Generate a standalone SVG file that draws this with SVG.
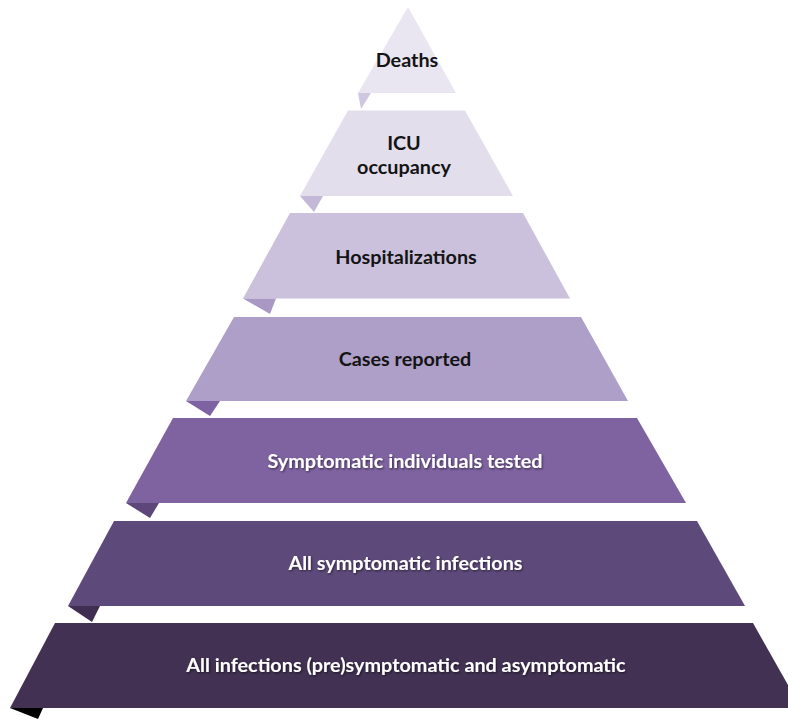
<svg xmlns="http://www.w3.org/2000/svg" width="788" height="719" viewBox="0 0 788 719">
<defs>
<filter id="sh" x="-5%" y="-30%" width="110%" height="160%">
<feDropShadow dx="1" dy="1.2" stdDeviation="0.8" flood-color="#000" flood-opacity="0.55"/>
</filter>
</defs>
<style>
text{font-family:Lato,"Open Sans","Liberation Sans",sans-serif;font-weight:bold;font-size:19.8px;text-anchor:middle}
.dk{fill:#141414}
.wt{fill:#ffffff;filter:url(#sh)}
</style>
<rect width="788" height="719" fill="#ffffff"/>
<g id="tier-deaths">
<polygon points="408,7 456,93 358,93" fill="#EAE6F1"/>
<polygon points="358,93 371,93 361,109" fill="#CFC6E0"/>
<text class="dk" x="407" y="67">Deaths</text>
</g>
<g id="tier-icu">
<polygon points="348,110.5 465,110.5 513,196 300,196" fill="#E3DEEC"/>
<polygon points="300,196 323,196 314,212" fill="#C3B8D7"/>
<text class="dk" x="404" y="150">ICU</text>
<text class="dk" x="404" y="174">occupancy</text>
</g>
<g id="tier-hospitalizations">
<polygon points="290,213 523,213 570,298.5 243,298.5" fill="#CBC1DD"/>
<polygon points="243,298.5 276,298.5 270,314" fill="#A997C4"/>
<text class="dk" x="406" y="264">Hospitalizations</text>
</g>
<g id="tier-cases">
<polygon points="234,317 581,317 628,401 186,401" fill="#AE9FC8"/>
<polygon points="186,401 220,401 210,416" fill="#7E62A2"/>
<text class="dk" x="405" y="366">Cases reported</text>
</g>
<g id="tier-tested">
<polygon points="173,418 637,418 686,503 126,503" fill="#7F63A1"/>
<polygon points="126,503 159,503 150,518" fill="#5D4679"/>
<text class="wt" x="405" y="468">Symptomatic individuals tested</text>
</g>
<g id="tier-symptomatic">
<polygon points="114,521 697,521 745,606 68,606" fill="#5E4A7A"/>
<polygon points="68,606 100,606 92,622" fill="#3F2E52"/>
<text class="wt" x="405.5" y="570">All symptomatic infections</text>
</g>
<g id="tier-all">
<polygon points="55,623 753,623 801,708 10,708" fill="#423153"/>
<polygon points="10,708 43,708 38,719" fill="#000000"/>
<text class="wt" x="406" y="672">All infections (pre)symptomatic and asymptomatic</text>
</g>
</svg>
